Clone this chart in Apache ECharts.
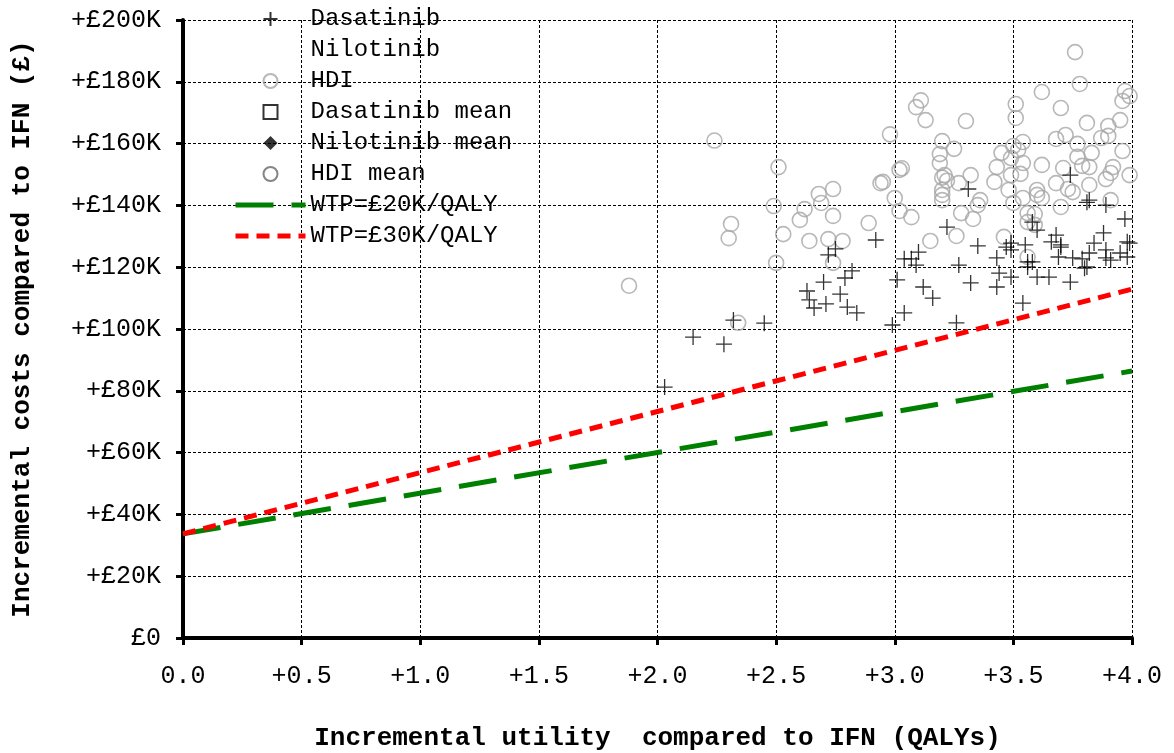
<!DOCTYPE html>
<html>
<head>
<meta charset="utf-8" />
<title>Cost-effectiveness plane</title>
<script type="text/javascript" src="https://cdn.jsdelivr.net/npm/echarts@6/dist/echarts.min.js"></script>
<style type="text/css">
html, body {
	width: 100%;
	height: 100%;
	margin: 0;
	background: #fff;
}
#main {
	width: 1174px;
	height: 753px;
}
</style>
</head>
<body>
<div id="main"></div>
<script type="text/javascript">
// x = incremental QALYs, y = incremental cost in £K
var dasatinib = [
    [2.03, 81.2], [2.15, 97.4], [2.28, 95.1], [2.32, 102.9], [2.45, 101.9], [2.63, 112.3],
    [2.64, 109.4], [2.66, 106.8], [2.70, 115.2], [2.71, 108.1], [2.77, 111.3], [2.80, 107.1],
    [2.84, 105.2], [2.79, 116.5], [2.82, 118.8], [2.72, 124], [2.75, 125.9], [2.92, 128.8],
    [3.01, 115.9], [3.04, 105.2], [3.04, 122.7], [3.07, 122.7], [3.09, 120.7], [3.10, 124.9],
    [3.12, 113.6], [3.16, 110], [3.22, 133], [3.27, 120.7], [3.31, 145.3], [3.32, 114.9],
    [3.35, 126.9], [3.43, 123], [3.43, 113.6], [3.44, 118.1], [2.99, 101.3], [3.26, 102],
    [3.54, 108.4], [3.49, 116.8], [3.56, 120.1], [3.60, 116.8], [3.65, 116.8], [3.74, 115.2],
    [3.49, 125.6], [3.49, 127.8], [3.55, 127.2], [3.56, 121.7], [3.58, 121.7], [3.60, 132],
    [3.58, 134.6], [3.68, 130.4], [3.66, 128.2], [3.70, 126.5], [3.69, 123.3], [3.75, 123],
    [3.79, 122.7], [3.80, 119.7], [3.81, 120.1], [3.84, 127.8], [3.82, 124.6], [3.88, 131.1],
    [3.89, 125.6], [3.91, 122.3], [3.95, 124.6], [3.97, 135.6], [3.98, 128.2], [3.99, 127.8],
    [3.98, 123.3], [3.74, 149.8], [3.81, 141], [3.82, 141.7], [3.89, 140.1], [3.70, 127.2],
    [3.89, 123], [3.47, 126.5]
];
var hdi = [
    [2.24, 161], [1.88, 114], [2.51, 152.4], [2.49, 139.8], [2.31, 134], [2.30, 129.4],
    [2.53, 130.7], [2.60, 135.3], [2.62, 138.8], [2.68, 143.7], [2.74, 145.3], [2.69, 140.8],
    [2.74, 136.6], [2.64, 128.5], [2.72, 129.1], [2.78, 128.5], [2.89, 134.3], [2.94, 147.2],
    [2.50, 121.4], [2.74, 121.4], [2.34, 102], [2.98, 163], [3.02, 151.5], [3.00, 142.4],
    [3.11, 174], [3.09, 171.8], [3.13, 167.6], [3.30, 167.3], [3.20, 160.8], [3.25, 158.3],
    [3.19, 156.6], [3.19, 153.7], [3.03, 152], [2.95, 147.6], [3.21, 149.8], [3.32, 149.8],
    [3.45, 157], [3.43, 152.4], [3.76, 189.6], [3.78, 179.3], [3.62, 176.7], [3.70, 171.5],
    [3.51, 172.8], [3.51, 168.3], [3.81, 166.7], [3.90, 165.7], [3.95, 167.6], [3.97, 177],
    [3.96, 173.8], [3.99, 175.4], [3.90, 162.5], [3.87, 161.8], [3.68, 161.5], [3.72, 162.8],
    [3.77, 159.9], [3.83, 157], [3.96, 157.6], [3.77, 155.7], [3.79, 152.8], [3.82, 152.4],
    [3.62, 153.1], [3.71, 152.1], [3.92, 152.4], [3.91, 150.5], [3.89, 148.5], [3.99, 149.8],
    [3.82, 146.6], [3.68, 147.2], [3.73, 145.3], [3.75, 144.3], [3.91, 141.7], [3.70, 139.5],
    [3.50, 159.2], [3.54, 160.5], [3.52, 157.9], [3.49, 155.3], [3.54, 153.7], [3.49, 149.8],
    [3.53, 150.2], [3.42, 147.6], [3.48, 145], [3.50, 140.8], [3.60, 145], [3.62, 142.4],
    [3.60, 143.4], [3.54, 142.4], [3.20, 149], [3.22, 148], [3.20, 145], [3.20, 143.4],
    [3.20, 141.7], [3.27, 147.2], [3.36, 141.7], [3.35, 140.1], [3.02, 138.2], [3.07, 136.2],
    [3.28, 137.5], [3.56, 137.5], [3.59, 137.2], [3.15, 128.5], [3.26, 130.1], [3.33, 135.6],
    [3.46, 129.8], [3.56, 134.6], [3.59, 133.7], [3.56, 123.3]
];
var nilotinib = [];
var dasatinibMean = [];
var nilotinibMean = [];
var hdiMean = [];
var wtp20 = [[0, 33.7], [4, 86.4]];
var wtp30 = [[0, 33.7], [4, 112.9]];

var font = '"Liberation Mono", "Courier New", monospace';
var plus = 'path://M8,0 L8,16 M0,8 L16,8';
// legend icons padded to the 70x14 legend box so they are not stretched
var squareIcon = 'path://M0,0 L0.01,0 M28,0 L42,0 L42,14 L28,14 Z M70,14 L69.99,14';
var diamondIcon = 'path://M0,0 L0.01,0 M35,0 L42,7 L35,14 L28,7 Z M70,14 L69.99,14';
var noDot = { color: 'rgba(0,0,0,0)', borderColor: 'rgba(0,0,0,0)', borderWidth: 0 };

var chart = echarts.init(document.getElementById('main'));

var option = {
    animation: false,
    backgroundColor: '#fff',
    grid: {
        left: 183,
        right: 42,
        top: 20,
        bottom: 115,
        outerBoundsMode: 'none'
    },
    legend: {
        orient: 'vertical',
        left: 228,
        top: 2,
        itemWidth: 70,
        itemHeight: 14,
        itemGap: 7,
        selectedMode: false,
        textStyle: {
            fontFamily: font,
            fontSize: 24,
            lineHeight: 24,
            color: '#000'
        },
        data: [
            'Dasatinib', 'Nilotinib', 'HDI',
            { name: 'Dasatinib mean', icon: squareIcon },
            { name: 'Nilotinib mean', icon: diamondIcon },
            'HDI mean',
            { name: 'WTP=£20K/QALY', itemStyle: noDot, lineStyle: { width: 5, type: [38, 18] } },
            { name: 'WTP=£30K/QALY', itemStyle: noDot, lineStyle: { width: 5, type: [13, 8] } }
        ]
    },
    xAxis: {
        type: 'value',
        min: 0,
        max: 4,
        interval: 0.5,
        name: 'Incremental utility  compared to IFN (QALYs)',
        nameLocation: 'middle',
        nameGap: 87,
        nameTextStyle: {
            fontFamily: font,
            fontSize: 26,
            fontWeight: 'bold',
            color: '#000'
        },
        axisLine: { lineStyle: { color: '#000', width: 4 } },
        axisTick: { length: 7, lineStyle: { color: '#000', width: 3 } },
        axisLabel: {
            margin: 26,
            fontFamily: font,
            fontSize: 25,
            color: '#000',
            formatter: function (v) {
                return v === 0 ? '0.0' : '+' + v.toFixed(1);
            }
        },
        splitLine: {
            show: true,
            lineStyle: { color: '#000', width: 1, type: [3, 2] }
        }
    },
    yAxis: {
        type: 'value',
        min: 0,
        max: 200,
        interval: 20,
        name: 'Incremental costs compared to IFN (£)',
        nameLocation: 'middle',
        nameGap: 148,
        nameTextStyle: {
            fontFamily: font,
            fontSize: 26,
            fontWeight: 'bold',
            color: '#000'
        },
        axisLine: { show: true, lineStyle: { color: '#000', width: 4 } },
        axisTick: { show: true, length: 7, lineStyle: { color: '#000', width: 3 } },
        axisLabel: {
            margin: 22,
            fontFamily: font,
            fontSize: 25,
            color: '#000',
            formatter: function (v) {
                return v === 0 ? '£0' : '+£' + v + 'K';
            }
        },
        splitLine: {
            show: true,
            lineStyle: { color: '#000', width: 1, type: [3, 2] }
        }
    },
    series: [{
        name: 'Dasatinib',
        type: 'scatter',
        z: 4,
        silent: true,
        symbol: plus,
        symbolSize: 16,
        data: dasatinib,
        itemStyle: { color: '#000', borderColor: '#000', borderWidth: 1.3 }
    }, {
        name: 'Nilotinib',
        type: 'scatter',
        silent: true,
        symbol: 'circle',
        symbolSize: 14,
        data: nilotinib,
        itemStyle: { color: 'rgba(0,0,0,0)', borderColor: 'rgba(0,0,0,0)' }
    }, {
        name: 'HDI',
        type: 'scatter',
        z: 3,
        silent: true,
        symbol: 'circle',
        symbolSize: 15,
        data: hdi,
        itemStyle: { color: 'rgba(0,0,0,0)', borderColor: '#a6a6a6', borderWidth: 1.6 }
    }, {
        name: 'Dasatinib mean',
        type: 'scatter',
        silent: true,
        symbol: 'rect',
        symbolSize: 16,
        data: dasatinibMean,
        itemStyle: { color: 'rgba(0,0,0,0)', borderColor: '#000', borderWidth: 1.4 }
    }, {
        name: 'Nilotinib mean',
        type: 'scatter',
        silent: true,
        symbol: 'diamond',
        symbolSize: 16,
        data: nilotinibMean,
        itemStyle: { color: '#000' }
    }, {
        name: 'HDI mean',
        type: 'scatter',
        silent: true,
        symbol: 'circle',
        symbolSize: 15,
        data: hdiMean,
        itemStyle: { color: 'rgba(0,0,0,0)', borderColor: '#666', borderWidth: 1.6 }
    }, {
        name: 'WTP=£20K/QALY',
        type: 'line',
        z: 5,
        silent: true,
        symbol: 'none',
        data: wtp20,
        itemStyle: { color: '#008000' },
        lineStyle: { color: '#008000', width: 5, type: [38, 18] }
    }, {
        name: 'WTP=£30K/QALY',
        type: 'line',
        z: 6,
        silent: true,
        symbol: 'none',
        data: wtp30,
        itemStyle: { color: '#ff0000' },
        lineStyle: { color: '#ff0000', width: 5, type: [13, 8] }
    }]
};

chart.setOption(option);
</script>
</body>
</html>
